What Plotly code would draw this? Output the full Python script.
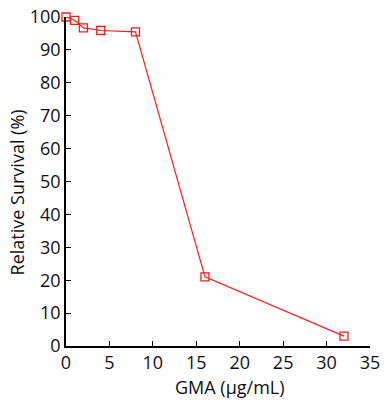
import plotly.graph_objects as go

conc = [0, 1, 2, 4, 8, 16, 32]
survival = [100, 99, 96.7, 95.9, 95.5, 21, 3]

fig = go.Figure()
fig.add_trace(go.Scatter(
    x=conc, y=survival, mode="lines+markers",
    line=dict(color="#ff1a1a", width=1.2),
    marker=dict(symbol="square-open", size=8, color="#ff1a1a", line=dict(width=1.3)),
    cliponaxis=False, showlegend=False,
))

font = "Open Sans, sans-serif"
fig.update_layout(
    width=386, height=403,
    margin=dict(l=66, r=16, t=17, b=57),
    paper_bgcolor="white", plot_bgcolor="white",
    font=dict(family=font, size=18, color="#111"),
    xaxis=dict(
        range=[0, 35], tickvals=[0, 5, 10, 15, 20, 25, 30, 35],
        ticks="inside", ticklen=5, tickcolor="black", tickwidth=1,
        showline=True, linecolor="black", linewidth=1.5,
        showgrid=False, zeroline=False, automargin=False,
    ),
    yaxis=dict(
        range=[0, 100], tickvals=list(range(0, 101, 10)),
        ticks="inside", ticklen=5, tickcolor="black", tickwidth=1,
        showline=True, linecolor="black", linewidth=1.5,
        showgrid=False, zeroline=False, automargin=False,
    ),
    annotations=[
        dict(text="GMA (µg/mL)", xref="paper", yref="paper", x=0.539, y=-0.124,
             xanchor="center", yanchor="middle", showarrow=False, font=dict(size=18)),
        dict(text="Relative Survival (%)", xref="paper", yref="paper", x=-0.161, y=0.467,
             xanchor="center", yanchor="middle", showarrow=False, textangle=-90,
             font=dict(size=18)),
    ],
)
fig.write_html("out.html", config={"displayModeBar": False},
               post_script="document.body.style.margin='0';document.body.style.overflow='hidden';")
